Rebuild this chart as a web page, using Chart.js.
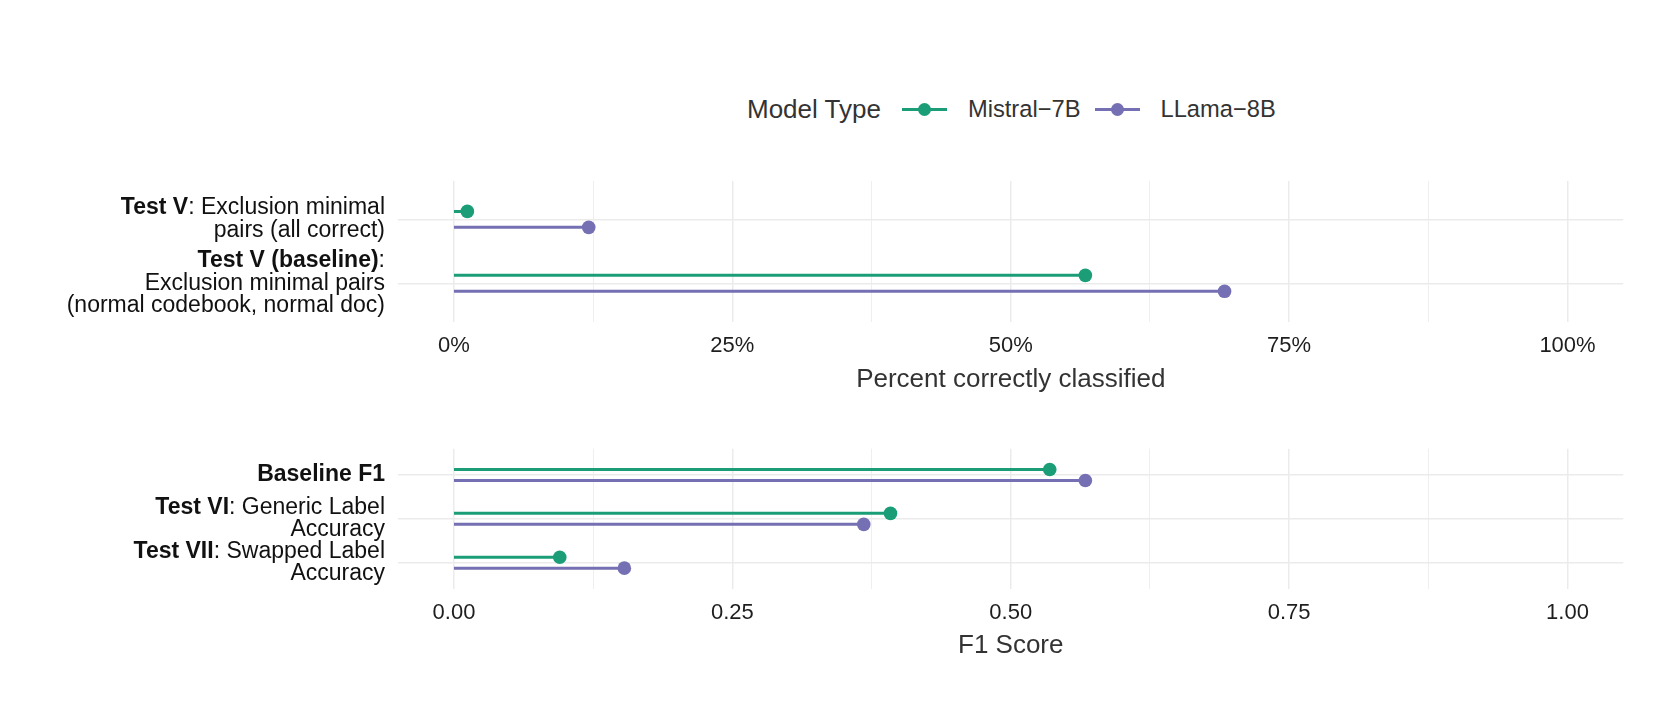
<!DOCTYPE html>
<html>
<head>
<meta charset="utf-8">
<title>Model Type lollipop</title>
<script src="https://cdn.jsdelivr.net/npm/chart.js@4.4.1/dist/chart.umd.min.js"></script>
<style>
  html, body { margin: 0; padding: 0; background: #fff; }
  body { width: 1661px; height: 712px; position: relative; overflow: hidden;
         font-family: "Liberation Sans", Arial, sans-serif; }
  canvas { position: absolute; left: 0; }
  #legend { position: absolute; left: 747px; top: 94px; height: 30px;
            display: flex; align-items: center; color: #333; white-space: nowrap; }
  #legend .ttl { font-size: 26px; margin-right: 21px; }
  #legend .key { position: relative; width: 45px; height: 3px; margin-right: 21px; }
  #legend .key i { position: absolute; left: 16px; top: -5px; width: 13px; height: 13px; border-radius: 50%; }
  #legend .lbl { font-size: 23.7px; margin-right: 14px; }
</style>
</head>
<body>
<div id="legend"></div>
<canvas id="top" width="1661" height="250" style="top:150px"></canvas>
<canvas id="bottom" width="1661" height="250" style="top:420px"></canvas>
<script>
// series
const seriesNames = ["Mistral\u22127B", "LLama\u22128B"];
const seriesColors = ["#1B9E77", "#7570B3"];

// top panel: share correctly classified
const topCategories = [
  [[["Test V", true], [": Exclusion minimal", false]], [["pairs (all correct)", false]]],
  [[["Test V (baseline)", true], [":", false]], [["Exclusion minimal pairs", false]], [["(normal codebook, normal doc)", false]]]
];
const topMistral = [0.012, 0.567];
const topLlama = [0.121, 0.692];
const topTickLabels = ["0%", "25%", "50%", "75%", "100%"];

// bottom panel: F1
const bottomCategories = [
  [[["Baseline F1", true]]],
  [[["Test VI", true], [": Generic Label", false]], [["Accuracy", false]]],
  [[["Test VII", true], [": Swapped Label", false]], [["Accuracy", false]]]
];
const bottomMistral = [0.535, 0.392, 0.095];
const bottomLlama = [0.567, 0.368, 0.153];
const bottomTickLabels = ["0.00", "0.25", "0.50", "0.75", "1.00"];

const majorTicks = [0, 0.25, 0.5, 0.75, 1];
const minorTicks = [0.125, 0.375, 0.625, 0.875];

const FONT = '"Liberation Sans", Arial, sans-serif';
Chart.defaults.font.family = FONT;

// legend
const lg = document.getElementById("legend");
lg.innerHTML = '<span class="ttl">Model Type</span>' + seriesNames.map((n, i) =>
  `<span class="key" style="background:${seriesColors[i]}"><i style="background:${seriesColors[i]}"></i></span><span class="lbl">${n}</span>`
).join("");

// stems from 0 to value, gap point between categories
function stems(values, offset) {
  const pts = [];
  values.forEach((v, i) => {
    const y = i + 1 + offset;
    pts.push({ x: 0, y: y }, { x: v, y: y, end: true }, { x: v, y: null });
  });
  return pts;
}

const yLabels = {
  id: "yLabels",
  afterDraw(chart, args, opts) {
    const ctx = chart.ctx;
    const ys = chart.scales.y;
    ctx.save();
    ctx.fillStyle = "#111";
    ctx.textBaseline = "middle";
    ctx.textAlign = "left";
    opts.labels.forEach((lines, i) => {
      const yc = ys.getPixelForValue(i + 1);
      lines.forEach((runs, k) => {
        const y = yc + (k - (lines.length - 1) / 2) * opts.gap;
        let x = opts.right;
        for (let r = runs.length - 1; r >= 0; r--) {
          const [t, bold] = runs[r];
          ctx.font = (bold ? "bold " : "") + opts.size + "px " + FONT;
          x -= ctx.measureText(t).width;
          ctx.fillText(t, x, y);
        }
      });
    });
    ctx.restore();
  }
};

const near = (a, b) => Math.abs(a - b) < 1e-6;
const isMajor = v => majorTicks.some(m => near(m, v));

function makePanel(id, cats, mistral, llama, tickLabels, title, p) {
  const n = cats.length;
  new Chart(document.getElementById(id), {
    type: "line",
    data: {
      datasets: [mistral, llama].map((vals, s) => ({
        label: seriesNames[s],
        data: stems(vals, s === 0 ? -0.125 : 0.125),
        borderColor: seriesColors[s],
        backgroundColor: seriesColors[s],
        pointBackgroundColor: seriesColors[s],
        borderWidth: 3,
        borderCapStyle: "butt",
        pointBorderWidth: 0,
        pointRadius: c => (c.raw && c.raw.end ? 6.8 : 0),
        spanGaps: false,
        clip: false
      }))
    },
    options: {
      responsive: false,
      animation: false,
      events: [],
      layout: { padding: { left: 398.3, right: 37.8, top: p.top, bottom: 0 } },
      plugins: {
        legend: { display: false },
        tooltip: { enabled: false },
        yLabels: { labels: cats, right: 385, size: 23, gap: p.gap }
      },
      scales: {
        x: {
          type: "linear", min: -0.05, max: 1.05, bounds: "data",
          afterBuildTicks: s => { s.ticks = majorTicks.concat(minorTicks).sort((a, b) => a - b).map(v => ({ value: v })); },
          afterFit: s => { s.height = p.axisH; },
          grid: {
            color: "#ebebeb",
            lineWidth: c => (c.tick && isMajor(c.tick.value) ? 1.5 : 0.8),
            drawTicks: false
          },
          border: { display: false },
          ticks: {
            autoSkip: false, maxRotation: 0, padding: p.tickPad, color: "#1e1e1e", font: { size: 22 },
            callback: v => {
              const i = majorTicks.findIndex(m => near(m, v));
              return i >= 0 ? tickLabels[i] : "";
            }
          },
          title: { display: true, text: title, color: "#333", font: { size: 26 }, padding: { top: 0, bottom: p.titlePad } }
        },
        y: {
          type: "linear", reverse: true, min: 0.4, max: n + 0.6, bounds: "data",
          afterBuildTicks: s => { s.ticks = cats.map((_, i) => ({ value: i + 1 })); },
          afterFit: s => { s.width = 0; },
          grid: { color: "#ebebeb", lineWidth: 1.5, drawTicks: false },
          border: { display: false },
          ticks: { display: false }
        }
      }
    },
    plugins: [yLabels]
  });
}

makePanel("top", topCategories, topMistral, topLlama, topTickLabels, "Percent correctly classified",
  { top: 31, axisH: 78.3, tickPad: 11, titlePad: 4.4, gap: 22.5 });
makePanel("bottom", bottomCategories, bottomMistral, bottomLlama, bottomTickLabels, "F1 Score",
  { top: 28.7, axisH: 81, tickPad: 10.5, titlePad: 8.4, gap: 22 });
</script>
</body>
</html>
